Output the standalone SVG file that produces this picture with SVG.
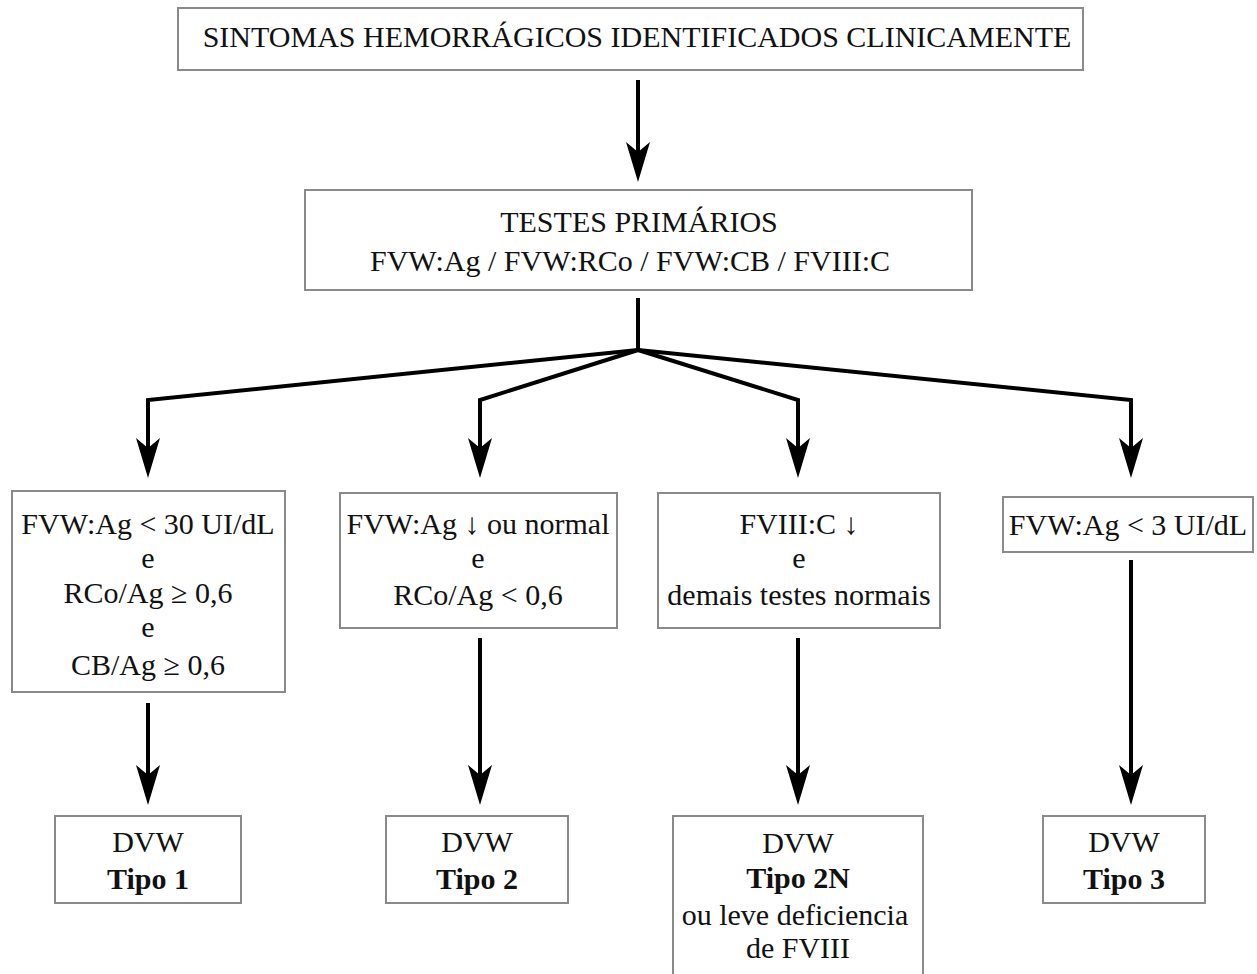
<svg xmlns="http://www.w3.org/2000/svg" width="1257" height="974" viewBox="0 0 1257 974">
<style>
.box{fill:#fff;stroke:#8a8a8a;stroke-width:2}
.t{font-family:"Liberation Serif","Times New Roman",serif;font-size:30px;fill:#111;text-anchor:middle}
.b{font-weight:bold}
.c{fill:none;stroke:#000;stroke-width:4;stroke-linejoin:miter}
</style>
<defs>
<marker id="ah" markerUnits="userSpaceOnUse" viewBox="0 0 40 24" refX="10" refY="12" markerWidth="40" markerHeight="24" orient="auto">
<path d="M0,0 L40,12 L0,24 L10,12 Z" fill="#000"/>
</marker>
</defs>
<rect width="1257" height="974" fill="#fff"/>
<g id="connectors">
<path class="c" d="M638,80 V152" marker-end="url(#ah)"/>
<path class="c" d="M638,298 V350"/>
<path class="c" d="M638,350 L148,400 V448" marker-end="url(#ah)"/>
<path class="c" d="M638,350 L480,400 V448" marker-end="url(#ah)"/>
<path class="c" d="M638,350 L798,400 V448" marker-end="url(#ah)"/>
<path class="c" d="M638,350 L1131,400 V448" marker-end="url(#ah)"/>
<path class="c" d="M148,703 V775" marker-end="url(#ah)"/>
<path class="c" d="M480,638 V775" marker-end="url(#ah)"/>
<path class="c" d="M798,638 V775" marker-end="url(#ah)"/>
<path class="c" d="M1131,560 V775" marker-end="url(#ah)"/>
</g>
<g id="n-sintomas">
<rect class="box" x="178" y="8" width="905" height="62"/>
<text class="t" x="637" y="47">SINTOMAS HEMORRÁGICOS IDENTIFICADOS CLINICAMENTE</text>
</g>
<g id="n-testes">
<rect class="box" x="305" y="190" width="667" height="100"/>
<text class="t" x="639" y="232">TESTES PRIMÁRIOS</text>
<text class="t" x="630" y="271">FVW:Ag / FVW:RCo / FVW:CB / FVIII:C</text>
</g>
<g id="n-c1">
<rect class="box" x="12" y="491" width="273" height="201"/>
<text class="t" x="148" y="534">FVW:Ag &lt; 30 UI/dL</text>
<text class="t" x="148" y="568">e</text>
<text class="t" x="148" y="603">RCo/Ag ≥ 0,6</text>
<text class="t" x="148" y="637">e</text>
<text class="t" x="148" y="675">CB/Ag ≥ 0,6</text>
</g>
<g id="n-c2">
<rect class="box" x="340" y="493" width="277" height="135"/>
<text class="t" x="478" y="534">FVW:Ag ↓ ou normal</text>
<text class="t" x="478" y="568">e</text>
<text class="t" x="478" y="605">RCo/Ag &lt; 0,6</text>
</g>
<g id="n-c3">
<rect class="box" x="658" y="493" width="282" height="135"/>
<text class="t" x="799" y="534">FVIII:C ↓</text>
<text class="t" x="799" y="568">e</text>
<text class="t" x="799" y="605">demais testes normais</text>
</g>
<g id="n-c4">
<rect class="box" x="1003" y="497" width="250" height="55"/>
<text class="t" x="1128" y="535">FVW:Ag &lt; 3 UI/dL</text>
</g>
<g id="n-t1">
<rect class="box" x="55" y="816" width="186" height="87"/>
<text class="t" x="148" y="852">DVW</text>
<text class="t b" x="148" y="889">Tipo 1</text>
</g>
<g id="n-t2">
<rect class="box" x="386" y="816" width="182" height="87"/>
<text class="t" x="477" y="852">DVW</text>
<text class="t b" x="477" y="889">Tipo 2</text>
</g>
<g id="n-t2n">
<rect class="box" x="673" y="816" width="250" height="170"/>
<text class="t" x="798" y="853">DVW</text>
<text class="t b" x="798" y="888">Tipo 2N</text>
<text class="t" x="795" y="925">ou leve deficiencia</text>
<text class="t" x="798" y="958">de FVIII</text>
</g>
<g id="n-t3">
<rect class="box" x="1043" y="816" width="162" height="87"/>
<text class="t" x="1124" y="852">DVW</text>
<text class="t b" x="1124" y="889">Tipo 3</text>
</g>
</svg>
